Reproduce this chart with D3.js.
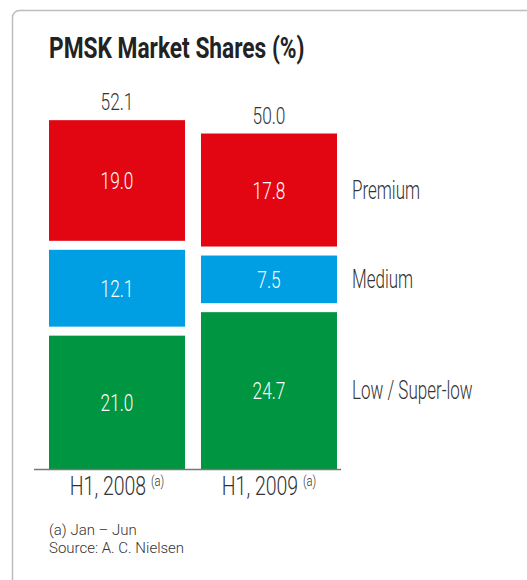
<!DOCTYPE html>
<html>
<head>
<meta charset="utf-8">
<script src="https://cdn.jsdelivr.net/npm/d3@7"></script>
<style>
  html, body { margin: 0; padding: 0; background: #fff; }
  svg { display: block; }
  text { font-family: Roboto, "Noto Sans", sans-serif; }
</style>
</head>
<body>
<div id="chart"></div>
<script>
const title = "PMSK Market Shares (%)";
const categories = ["H1, 2008", "H1, 2009"];
const segments = ["Low / Super-low", "Medium", "Premium"];
const lowValues = [21.0, 24.7];
const mediumValues = [12.1, 7.5];
const premiumValues = [19.0, 17.8];
const totals = [52.1, 50.0];
const colors = ["#009540", "#009FE3", "#E20613"];
const footnotes = ["(a) Jan \u2013 Jun", "Source: A. C. Nielsen"];

const W = 527, H = 580;
const SX = 0.72; // condensed look
const baseline = 469;
const gap = 9;
const series = [lowValues, mediumValues, premiumValues];

const svg = d3.select("#chart").append("svg").attr("width", W).attr("height", H);

// card
svg.append("rect").attr("x", 12.5).attr("y", 10.5).attr("width", 540).attr("height", 600)
  .attr("rx", 7).attr("fill", "#fff").attr("stroke", "#bdbdbd").attr("stroke-width", 1.5);

function ctext(g, x, y, str, opts) {
  const t = g.append("text")
    .attr("transform", `translate(${x},${y}) scale(${opts.sx || SX},1)`)
    .attr("text-anchor", opts.anchor || "start")
    .attr("font-size", opts.size)
    .attr("font-weight", opts.weight || 300)
    .attr("fill", opts.fill || "#333");
  t.text(str);
  return t;
}

ctext(svg, 49, 58, title, {size: 29.5, weight: 700, fill: "#222", sx: 0.77});

const x = d3.scaleBand().domain(categories).range([49, 337]).paddingInner(0.105).paddingOuter(0);
const y = d3.scaleLinear().domain([0, 10]).range([0, 63.5]);

const g = svg.append("g");

categories.forEach((c, i) => {
  let bottom = baseline;
  series.forEach((vals, s) => {
    const h = y(vals[i]);
    const top = bottom - h;
    g.append("rect").attr("x", x(c)).attr("y", top).attr("width", x.bandwidth()).attr("height", h)
      .attr("fill", colors[s]);
    ctext(g, x(c) + x.bandwidth() / 2, top + h / 2 + 8.5, vals[i].toFixed(1), {size: 24, anchor: "middle", fill: "#fff"});
    if (i === categories.length - 1) {
      ctext(g, 352, top + h / 2 + 8.5, segments[s], {size: 25, fill: "#333", sx: 0.68});
    }
    bottom = top - gap;
  });
  const topOfStack = bottom + gap;
  ctext(g, x(c) + x.bandwidth() / 2, topOfStack - 10, totals[i].toFixed(1), {size: 24, anchor: "middle", fill: "#333"});
});

// baseline axis
g.append("line").attr("x1", 34).attr("x2", 341).attr("y1", baseline + 0.5).attr("y2", baseline + 0.5)
  .attr("stroke", "#777").attr("stroke-width", 1.5);

// category labels
categories.forEach((c) => {
  const t = g.append("text")
    .attr("transform", `translate(${x(c) + x.bandwidth() / 2},495) scale(0.75,1)`)
    .attr("text-anchor", "middle")
    .attr("font-size", 26).attr("font-weight", 300).attr("fill", "#333");
  t.append("tspan").text(c + " ");
  t.append("tspan").attr("font-size", 15).attr("dy", -9).text("(a)");
});

footnotes.forEach((f, i) => {
  ctext(svg, 49, 535 + i * 17.5, f, {size: 15, fill: "#333", sx: 1.0});
});
</script>
</body>
</html>
